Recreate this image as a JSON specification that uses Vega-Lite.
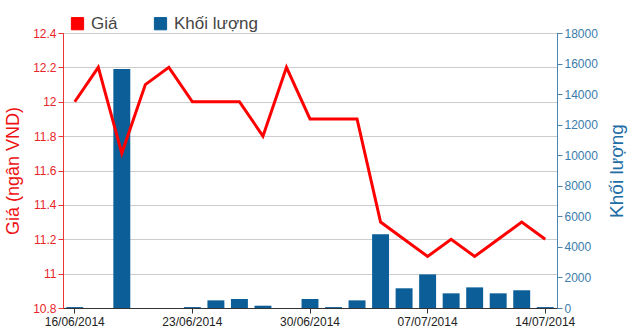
{
  "$schema": "https://vega.github.io/schema/vega-lite/v6.json",
  "autosize": "none",
  "width": 494,
  "height": 275,
  "padding": {"left": 63, "top": 33, "right": 83, "bottom": 22},
  "background": "#ffffff",
  "config": {
    "font": "Liberation Sans",
    "view": {"stroke": "#000000", "strokeWidth": 1}
  },
  "data": {
    "values": [
      {"d": "16/06/2014", "p": 12.0, "v": 60},
      {"d": "17/06/2014", "p": 12.2, "v": 0},
      {"d": "18/06/2014", "p": 11.7, "v": 15650},
      {"d": "19/06/2014", "p": 12.1, "v": 0},
      {"d": "20/06/2014", "p": 12.2, "v": 0},
      {"d": "23/06/2014", "p": 12.0, "v": 60},
      {"d": "24/06/2014", "p": 12.0, "v": 500},
      {"d": "25/06/2014", "p": 12.0, "v": 590},
      {"d": "26/06/2014", "p": 11.8, "v": 150},
      {"d": "27/06/2014", "p": 12.2, "v": 0},
      {"d": "30/06/2014", "p": 11.9, "v": 590},
      {"d": "01/07/2014", "p": 11.9, "v": 60},
      {"d": "02/07/2014", "p": 11.9, "v": 500},
      {"d": "03/07/2014", "p": 11.3, "v": 4820},
      {"d": "04/07/2014", "p": 11.2, "v": 1290},
      {"d": "07/07/2014", "p": 11.1, "v": 2200},
      {"d": "08/07/2014", "p": 11.2, "v": 960},
      {"d": "09/07/2014", "p": 11.1, "v": 1350},
      {"d": "10/07/2014", "p": 11.2, "v": 960},
      {"d": "11/07/2014", "p": 11.3, "v": 1160},
      {"d": "14/07/2014", "p": 11.2, "v": 60}
    ]
  },
  "encoding": {
    "x": {
      "field": "d",
      "type": "ordinal",
      "sort": null,
      "scale": {"paddingInner": 0.28, "paddingOuter": 0.14},
      "axis": {
        "title": null,
        "values": ["16/06/2014", "23/06/2014", "30/06/2014", "07/07/2014", "14/07/2014"],
        "labelAngle": 0,
        "labelFontSize": 12,
        "labelColor": "#222222",
        "labelPadding": 3,
        "domainColor": "#333333",
        "tickColor": "#333333",
        "tickSize": 5,
        "grid": false
      }
    }
  },
  "layer": [
    {
      "mark": {"type": "bar", "color": "#0b5e98"},
      "encoding": {
        "y": {
          "field": "v",
          "type": "quantitative",
          "scale": {"domain": [0, 18000], "nice": false},
          "axis": {
            "orient": "right",
            "title": "Khối lượng",
            "titleAngle": 270,
            "titleBaseline": "top",
            "titleFontSize": 19,
            "titleFontWeight": "normal",
            "titleColor": "#1f6ea6",
            "titlePadding": 10,
            "values": [0, 2000, 4000, 6000, 8000, 10000, 12000, 14000, 16000, 18000],
            "format": "d",
            "labelFontSize": 12,
            "labelColor": "#3a7cab",
            "labelPadding": 2,
            "domainColor": "#4a86b0",
            "tickColor": "#4a86b0",
            "tickSize": 5,
            "grid": false
          }
        },
        "color": {
          "datum": "Khối lượng",
          "type": "nominal",
          "scale": {"domain": ["Giá", "Khối lượng"], "range": ["#ff0000", "#0b5e98"]},
          "legend": {
            "title": null,
            "orient": "none",
            "direction": "horizontal",
            "legendX": 6,
            "legendY": -18,
            "symbolType": "square",
            "symbolSize": 150,
            "symbolStrokeColor": "#333333",
            "symbolStrokeWidth": 1,
            "symbolOpacity": 1,
            "labelFontSize": 17,
            "labelColor": "#444444",
            "labelOffset": 5,
            "columnPadding": 34
          }
        }
      }
    },
    {
      "mark": {"type": "line", "strokeWidth": 3, "color": "#ff0000"},
      "encoding": {
        "y": {
          "field": "p",
          "type": "quantitative",
          "scale": {"domain": [10.8, 12.4], "nice": false, "zero": false},
          "axis": {
            "orient": "left",
            "title": "Giá (ngân VND)",
            "titleFontSize": 18,
            "titleFontWeight": "normal",
            "titleColor": "#ee1111",
            "titlePadding": 10,
            "values": [10.8, 11, 11.2, 11.4, 11.6, 11.8, 12, 12.2, 12.4],
            "format": "~g",
            "labelFontSize": 12,
            "labelColor": "#e8252a",
            "labelPadding": 2,
            "domainColor": "#ee3333",
            "tickColor": "#ee3333",
            "tickSize": 5,
            "grid": true,
            "gridColor": "#cccccc"
          }
        },
        "color": {"datum": "Giá", "type": "nominal"}
      }
    }
  ],
  "resolve": {"scale": {"y": "independent"}}
}
